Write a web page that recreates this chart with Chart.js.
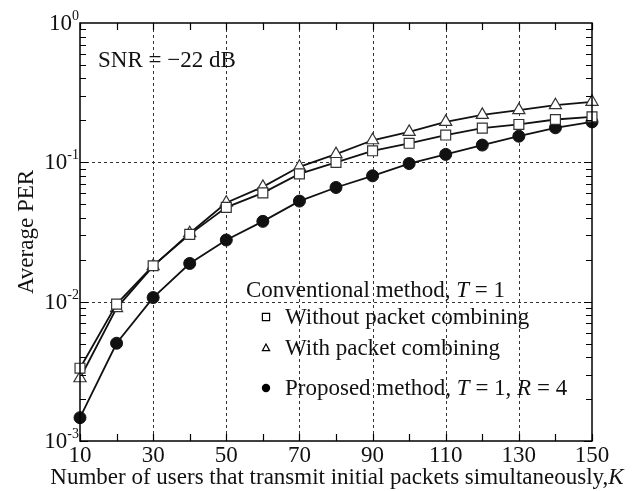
<!DOCTYPE html>
<html>
<head>
<meta charset="utf-8">
<script src="https://cdn.jsdelivr.net/npm/chart.js@4.4.1/dist/chart.umd.min.js"></script>
<style>
html,body{margin:0;padding:0;background:#fff;}
#wrap{width:633px;height:491px;}
</style>
</head>
<body>
<div id="wrap"><canvas id="c" width="633" height="491"></canvas></div>
<script>
// ---- data ----
const users = [10,20,30,40,50,60,70,80,90,100,110,120,130,140,150];
const withoutCombining = [0.00333,0.0096,0.0181,0.0304,0.0475,0.0604,0.0827,0.0998,0.121,0.137,0.157,0.176,0.187,0.203,0.212];
const withCombining    = [0.00282,0.0090,0.0180,0.0310,0.0513,0.0667,0.0929,0.1145,0.144,0.1655,0.195,0.219,0.237,0.257,0.272];
const proposed         = [0.00147,0.00503,0.0107,0.0188,0.0277,0.0377,0.0527,0.066,0.080,0.098,0.114,0.133,0.154,0.177,0.195];
const xTickLabels = [10,30,50,70,90,110,130,150];
const xMinorTicks = [20,40,60,80,100,120,140];
const yTickExponents = [0,-1,-2,-3];
const snrText = 'SNR = \u221222 dB';
const legendTitle = [['Conventional method, ',false],['T',true],[' = 1',false]];
const legendItems = [
  {label:[['Without packet combining',false]], style:'rect'},
  {label:[['With packet combining',false]], style:'triangle'},
  {label:[['Proposed method, ',false],['T',true],[' = 1, ',false],['R',true],[' = 4',false]], style:'circle'}
];
const xTitle = [['Number of users that transmit initial packets simultaneously,',false],['K',true]];
const yTitle = 'Average PER';

const FONT = '"Liberation Serif", "Times New Roman", serif';
const FS = 23;
function setFont(ctx, size, italic){ ctx.font = (italic?'italic ':'') + size + 'px ' + FONT; }
function richWidth(ctx, parts, size){
  let w=0; for(const [t,i] of parts){ setFont(ctx,size,i); w+=ctx.measureText(t).width; } return w;
}
function drawRich(ctx, parts, x, y, size){
  ctx.textAlign='left';
  for(const [t,i] of parts){ setFont(ctx,size,i); ctx.fillText(t,x,y); x+=ctx.measureText(t).width; }
}
function marker(ctx, style, x, y, r){
  ctx.save();
  ctx.lineWidth=1.2; ctx.strokeStyle='#000';
  ctx.beginPath();
  if(style==='rect'){ ctx.fillStyle='#fff'; ctx.rect(x-r,y-r,2*r,2*r); ctx.fill(); ctx.stroke(); }
  else if(style==='triangle'){ ctx.fillStyle='#fff'; ctx.moveTo(x,y-r*1.1); ctx.lineTo(x+r,y+r*0.75); ctx.lineTo(x-r,y+r*0.75); ctx.closePath(); ctx.fill(); ctx.stroke(); }
  else { ctx.fillStyle='#000'; ctx.arc(x,y,r,0,Math.PI*2); ctx.fill(); }
  ctx.restore();
}

const framePlugin = {
  id:'frame',
  beforeDatasetsDraw(chart){
    const {ctx, chartArea:a, scales:{x,y}} = chart;
    ctx.save();
    ctx.strokeStyle='#333'; ctx.lineWidth=1; ctx.setLineDash([3,3]);
    for(const v of xTickLabels){
      const px=Math.round(x.getPixelForValue(v))+0.5;
      if(px<=a.left+1||px>=a.right-1) continue;
      ctx.beginPath(); ctx.moveTo(px,a.top); ctx.lineTo(px,a.bottom); ctx.stroke();
    }
    for(const e of yTickExponents){
      const py=Math.round(y.getPixelForValue(Math.pow(10,e)))+0.5;
      if(py<=a.top+1||py>=a.bottom-1) continue;
      ctx.beginPath(); ctx.moveTo(a.left,py); ctx.lineTo(a.right,py); ctx.stroke();
    }
    ctx.restore();
  },
  afterDraw(chart){
    const {ctx, chartArea:a, scales:{x,y}} = chart;
    ctx.save();
    ctx.strokeStyle='#000'; ctx.lineWidth=1.5; ctx.setLineDash([]);
    ctx.strokeRect(a.left,a.top,a.right-a.left,a.bottom-a.top);
    ctx.lineWidth=1.2;
    const xt=[...xTickLabels,...xMinorTicks];
    for(const v of xt){
      const px=Math.round(x.getPixelForValue(v))+0.5;
      ctx.beginPath();
      ctx.moveTo(px,a.bottom); ctx.lineTo(px,a.bottom-7);
      ctx.moveTo(px,a.top); ctx.lineTo(px,a.top+7);
      ctx.stroke();
    }
    for(let e=-3;e<0;e++){
      for(let m=1;m<=9;m++){
        const py=Math.round(y.getPixelForValue(m*Math.pow(10,e)))+0.5;
        const len = m===1?8:6;
        ctx.beginPath();
        ctx.moveTo(a.left,py); ctx.lineTo(a.left+len,py);
        ctx.moveTo(a.right,py); ctx.lineTo(a.right-len,py);
        ctx.stroke();
      }
    }
    ctx.fillStyle='#111';
    setFont(ctx,FS,false); ctx.textAlign='center'; ctx.textBaseline='alphabetic';
    for(const v of xTickLabels){
      ctx.fillText(String(v), x.getPixelForValue(v), a.bottom+21);
    }
    for(const e of yTickExponents){
      const py=y.getPixelForValue(Math.pow(10,e));
      const sup=(e<0?'-':'')+Math.abs(e);
      setFont(ctx,14,false); const sw=ctx.measureText(sup).width;
      setFont(ctx,FS,false); const bw=ctx.measureText('10').width;
      const right=a.left-1;
      ctx.textAlign='left';
      ctx.fillText('10', right-sw-bw, py+7);
      setFont(ctx,14,false);
      ctx.fillText(sup, right-sw, py-3);
    }
    const xw=richWidth(ctx,xTitle,FS);
    drawRich(ctx,xTitle,(a.left+a.right)/2-xw/2+1,a.bottom+43,FS);
    ctx.save();
    ctx.translate(33,(a.top+a.bottom)/2);
    ctx.rotate(-Math.PI/2);
    setFont(ctx,FS,false); ctx.textAlign='center';
    ctx.fillText(yTitle,0,0);
    ctx.restore();
    setFont(ctx,FS,false); ctx.textAlign='left';
    ctx.fillText(snrText,98,67);
    drawRich(ctx,legendTitle,246,297,FS);
    const ys=[317,348,388];
    legendItems.forEach((it,i)=>{
      marker(ctx,it.style,266,ys[i],it.style==='circle'?4.2:3.6);
      drawRich(ctx,it.label,285,ys[i]+7,FS);
    });
    ctx.restore();
  }
};

new Chart(document.getElementById('c'), {
  type:'line',
  data:{
    labels:users,
    datasets:[
      {label:'Without packet combining', data:withoutCombining, borderColor:'#111', borderWidth:1.8,
       pointStyle:'rect', pointRadius:7, pointBackgroundColor:'#fff', pointBorderColor:'#333', pointBorderWidth:1.2, tension:0},
      {label:'With packet combining', data:withCombining, borderColor:'#111', borderWidth:1.8,
       pointStyle:'triangle', pointRadius:7, pointBackgroundColor:'#fff', pointBorderColor:'#333', pointBorderWidth:1.2, tension:0},
      {label:'Proposed method, T = 1, R = 4', data:proposed, borderColor:'#111', borderWidth:1.8,
       pointStyle:'circle', pointRadius:6, pointBackgroundColor:'#111', pointBorderColor:'#111', pointBorderWidth:1, tension:0}
    ].map(d=>({...d, data:d.data.map((v,i)=>({x:users[i], y:v})), clip:false}))
  },
  options:{
    responsive:false, animation:false, devicePixelRatio:1,
    layout:{padding:{left:80,right:41,top:23,bottom:50}},
    plugins:{legend:{display:false}, tooltip:{enabled:false}},
    scales:{
      x:{type:'linear', min:10, max:150, display:false},
      y:{type:'logarithmic', min:0.001, max:1, display:false}
    }
  },
  plugins:[framePlugin]
});
</script>
</body>
</html>
